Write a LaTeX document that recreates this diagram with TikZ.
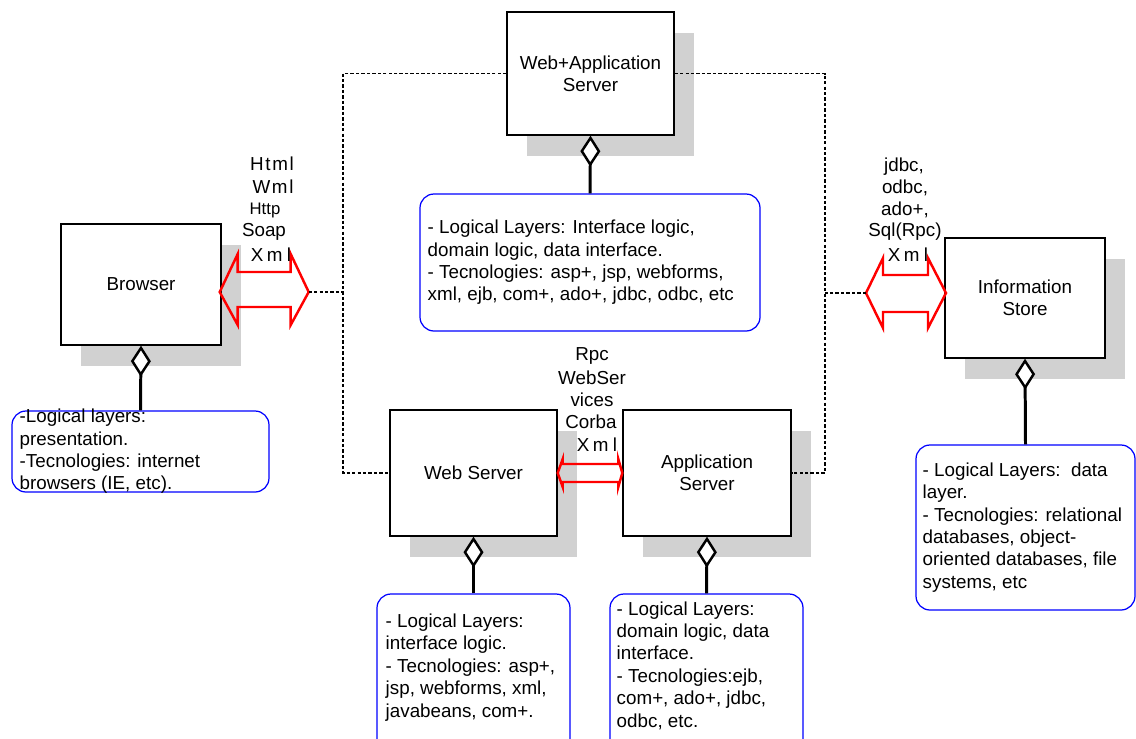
\documentclass[tikz,border=0pt]{standalone}
\usepackage{fontspec}
\setmainfont{Liberation Sans}
\usetikzlibrary{arrows.meta,calc,shadows}
\tikzset{
  wh/.style 2 args={minimum width=#1*0.02cm, minimum height=#2*0.02cm},
  box/.style={draw=black, line width=0.8pt, fill=white, align=center, inner sep=0pt,
    general shadow={fill=black!18, shadow xshift=0.4cm, shadow yshift=-0.42cm}},
  note/.style={draw=blue, line width=0.7pt, fill=white, rounded corners=0.28cm, inner sep=0pt},
  notetext/.style={anchor=west, align=left, inner sep=0pt},
  lbl/.style={inner sep=0pt},
  spaced/.style={font=\fontsize{10.7}{12.75}\selectfont\addfontfeature{LetterSpace=9}},
  framedash/.style={line width=0.6pt, dash pattern=on 1.9pt off 1.2pt},
  redarr/.style={draw=red, line width=1.4pt, line join=miter},
  agg/.style={line width=1.7pt, -{Diamond[fill=white, length=0.62cm, width=0.4cm, line width=1.4pt]}}
}
\begin{document}
\begin{tikzpicture}[x=0.02cm,y=-0.02cm,
  every node/.style={font=\fontsize{10.7}{12.75}\selectfont}]
\useasboundingbox (0,0) rectangle (1136,738);
\fill[white] (0,0) rectangle (1136,738);

% coordinates of the dashed frame
\coordinate (fl) at (343,473);
\coordinate (fr) at (825,473);

% boxes
\node[box, wh={167}{123}] (wa) at (590.5,73.5) {Web+Application\\Server};
\node[box, wh={160}{121}] (br) at (141,284.5) {Browser};
\node[box, wh={160}{120}] (is) at (1025,298) {Information\\Store};
\node[box, wh={167}{126}] (ws) at (473.5,473) {Web Server};
\node[box, wh={168}{126}] (as) at (707,473) {Application\\Server};

% notes
\node[note, wh={340}{137}] (nwa) at (590,262.5) {};
\node[note, wh={257}{81}] (nbr) at (140.5,451.5) {};
\node[note, wh={219}{165}] (nis) at (1025.5,527.5) {};
\node[note, wh={193}{166}] (nws) at (473.5,677) {};
\node[note, wh={193}{166}] (nas) at (706.5,677) {};

\node[notetext] (twa) at ($(nwa.west)+(8,0)$) {- Logical Layers: Interface logic,\\domain logic, data interface.\\- Tecnologies: asp+, jsp, webforms,\\xml, ejb, com+, ado+, jdbc, odbc, etc};
\node[notetext] (tbr) at ($(nbr.west)+(8,0)$) {-Logical layers:\\presentation.\\-Tecnologies: internet\\browsers (IE, etc).};
\node[notetext] (tis) at ($(nis.west)+(7,0)$) {- Logical Layers:\ \ data\\layer.\\- Tecnologies: relational\\databases, object-\\oriented databases, file\\systems, etc};
\node[notetext] (tws) at ($(nws.north west)+(9,74)$) {- Logical Layers:\\interface logic.\\- Tecnologies: asp+,\\jsp, webforms, xml,\\javabeans, com+.};
\node[notetext] (tas) at ($(nas.north west)+(7,72)$) {- Logical Layers:\\domain logic, data\\interface.\\- Tecnologies:ejb,\\com+, ado+, jdbc,\\odbc, etc.};

% aggregation connectors
\draw[agg] (nwa.north) -- (wa.south);
\draw[agg] (nbr.north) -- (br.south);
\draw[agg] (nis.north) -- (is.south);
\draw[agg] (nws.north) -- (ws.south);
\draw[agg] (nas.north) -- (as.south);

% dashed frame
\draw[framedash] (wa.west) -| (fl) -- (ws.west);
\draw[framedash] (wa.east) -| (fr) -- (as.east);

% left double arrow
\coordinate (la) at ($(br.east)+(-2,7.5)$);
\draw[redarr] (la) -- ++(18,-38) -- ++(0,18) -- ++(53,0) -- ++(0,-18) -- ++(18,38) coordinate (lb)
  -- ++(-18,33) -- ++(0,-18) -- ++(-53,0) -- ++(0,18) -- cycle;
\draw[framedash] (lb) -- (lb -| fl);

% right double arrow
\coordinate (ra) at (866,293);
\draw[redarr] (ra) -- ++(17,-35) -- ++(0,17) -- ++(45,0) -- ++(0,-17) -- ++(18,35) coordinate (rb)
  -- ++(-18,35) -- ++(0,-16) -- ++(-45,0) -- ++(0,16) -- cycle;
\draw[framedash] (ra) -- (ra -| fr);

% middle double arrow
\draw[redarr] (ws.east) -- ++(5,-14) -- ++(0,5) -- ($(as.west)+(-4,-9)$) -- ++(0,-5) -- (as.west)
  -- ++(-4,14) -- ++(0,-5) -- ($(ws.east)+(5,9)$) -- ++(0,5) -- cycle;

% protocol labels (left)
\node[lbl, spaced] (l1) at (272,164) {Html};
\node[lbl, spaced] (l2) at (273,187) {Wml};
\node[lbl, font=\fontsize{9.5}{11}\selectfont] (l3) at (265,210) {Http};
\node[lbl] (l4) at (264,232) {Soap};
\node[lbl] (l5) at (271,255) {X\kern2pt m\kern2.5pt l};

% protocol labels (right)
\node[lbl] (r1) at (904,167) {jdbc,};
\node[lbl] (r2) at (905,188) {odbc,};
\node[lbl] (r3) at (905,210) {ado+,};
\node[lbl] (r4) at (905,232) {Sql(Rpc)};
\node[lbl] (r5) at (908,255) {X\kern2pt m\kern2.5pt l};

% protocol labels (middle)
\node[lbl] (m1) at (592,356) {Rpc};
\node[lbl] (m2) at (592,378) {WebSer};
\node[lbl] (m3) at (592,400) {vices};
\node[lbl] (m4) at (591,422) {Corba};
\node[lbl] (m5) at (597,445) {X\kern2pt m\kern2.5pt l};
\end{tikzpicture}
\end{document}
